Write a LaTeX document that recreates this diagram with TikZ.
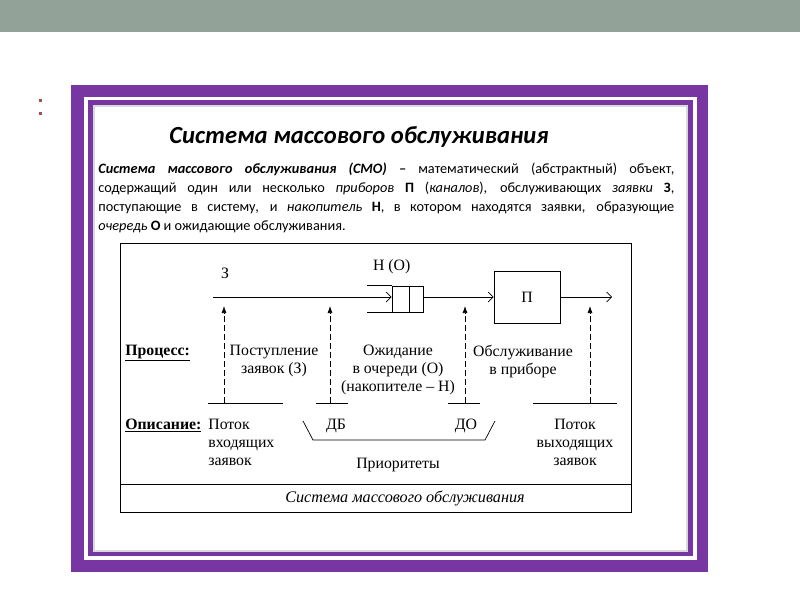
\documentclass[tikz,border=0pt]{standalone}
\usepackage{fontspec}
\setmainfont{Liberation Serif}
\newfontfamily\calib{Carlito}
\usetikzlibrary{positioning, arrows.meta}
\definecolor{barGray}{RGB}{147,162,152}
\definecolor{framePurple}{RGB}{119,54,162}
\definecolor{dotRed}{RGB}{160,82,74}
\tikzstyle{lbl} = [inner sep=0pt, font=\fontsize{15.8}{17.8}\selectfont, align=center]
\tikzstyle{head} = [inner sep=0pt, font=\fontsize{15.8}{17.8}\selectfont\bfseries, anchor=north west]
\tikzstyle{flow} = [-{Straight Barb[length=5pt,width=10pt]}]
\tikzstyle{probe} = [dashed, dash pattern=on 6pt off 3pt, -{Latex[length=7pt,width=5pt]}]
\tikzstyle{block} = [rectangle, draw=black, thick]

\begin{document}
\begin{tikzpicture}[x=1pt, y=-1pt, line width=0.7pt]
\useasboundingbox (0,0) rectangle (800,600);
\fill[barGray] (0,0) rectangle (800,32);
\fill[dotRed] (38.5,98.5) rectangle ++(3,3);
\fill[dotRed] (38.5,111.5) rectangle ++(3,3);

\fill[framePurple] (71,85) rectangle (708,572);
\fill[white] (84,97) rectangle (697,560);
\fill[framePurple] (88,100) rectangle (693,556);
\fill[white] (93,105) rectangle (688,552);
\draw[black!15, line width=2pt] (94,106) rectangle (687,551);

\node (title) at (359,137) {\calib\fontsize{24.6}{28}\selectfont\bfseries\itshape Система массового обслуживания};
\node (defn) [anchor=north west, inner sep=0pt, text width=576pt, align=justify,
  font=\calib\fontsize{14.3}{18.8}\selectfont] at (98,163)
  {\textbf{\textit{Система массового обслуживания (СМО) –}} математический (абстрактный) объект,\linebreak
   содержащий один или несколько \textit{приборов} \textbf{П} (\textit{каналов}), обслуживающих \textit{заявки} \textbf{З},\linebreak
   поступающие в систему, и \textit{накопитель} \textbf{Н}, в котором находятся заявки, образующие\linebreak
   \textit{очередь} \textbf{О} и ожидающие обслуживания.};

\draw (120,243) rectangle (631,512);
\draw (120,484) -- (631,484);
\node (capt) [lbl, font=\fontsize{16.2}{18}\selectfont\itshape] at (405,498) {Система массового обслуживания};

\coordinate (in) at (213,297);
\node (zlbl) [lbl] at (225,273) {З};
\node (queue) [rectangle, draw, minimum width=31pt, minimum height=26pt, inner sep=0pt] at (407.5,299) {};
\draw ([xshift=1.5pt]queue.north) -- ([xshift=1.5pt]queue.south);
\draw (queue.north west) -- ++(-25,0);
\draw (queue.south west) -- ++(-25,0);
\node (qlbl) [lbl, above=11pt of queue.north west, anchor=south] {Н (О)};
\node (dev) [block, minimum width=66pt, minimum height=52pt, inner sep=0pt, lbl] at (527,297) {П};
\coordinate (out) at (612,297);
\draw [flow] (in) -- (in -| queue.west);
\draw [flow] (queue.east |- in) -- (dev.west |- in);
\draw [flow] (dev.east |- in) -- (out);

\foreach \xa/\xb/\xc in {224/208/283, 330/316/348, 465/448/480, 590/533/617} {
  \draw (\xb,403) -- (\xc,403);
  \draw [probe] (\xa,403) -- (\xa,306);
}

\node (proc) [head] at (125,345) {\underline{Процесс:}};
\node (arrv) [lbl, anchor=north] at (274,345) {Поступление\\заявок (З)};
\node (wait) [lbl, anchor=north] at (398,345) {Ожидание\\в очереди (О)\\(накопителе – Н)};
\node (serv) [lbl, anchor=north] at (523,345) {Обслуживание\\в приборе};

\node (desc) [head] at (125,419) {\underline{Описание:}};
\node (inflow) [lbl, anchor=north west, align=left] at (208,419) {Поток\\входящих\\заявок};
\node (db) [lbl, anchor=north] at (336,419) {ДБ};
\node (do) [lbl, anchor=north] at (466,419) {ДО};
\draw (303,421) -- (313,440) -- (485,440) -- (495,421);
\node (prio) [lbl] at (398,465) {Приоритеты};
\node (outflow) [lbl, anchor=north] at (575,419) {Поток\\выходящих\\заявок};
\end{tikzpicture}
\end{document}
